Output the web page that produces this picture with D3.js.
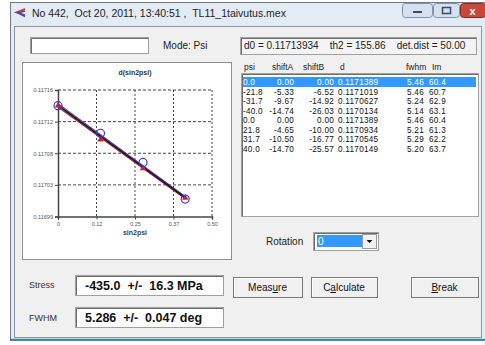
<!DOCTYPE html>
<html>
<head>
<meta charset="utf-8">
<script src="https://cdn.jsdelivr.net/npm/d3@7"></script>
<style>
  body { margin: 0; background: #fff; }
  svg { display: block; font-family: "Liberation Sans", Arial, sans-serif; }
</style>
</head>
<body>
<svg id="win" width="485" height="345"></svg>
<script>
// Datos de la tabla (psi, shiftA, shiftB, d, fwhm, Im)
const psi    = ['0.0', '-21.8', '-31.7', '-40.0', '0.0', '21.8', '31.7', '40.0'];
const shiftA = ['0.00', '-5.33', '-9.67', '-14.74', '0.00', '-4.65', '-10.50', '-14.70'];
const shiftB = ['0.00', '-6.52', '-14.92', '-26.03', '0.00', '-10.00', '-16.77', '-25.57'];
const dVals  = ['0.1171389', '0.1171019', '0.1170627', '0.1170134', '0.1171389', '0.1170934', '0.1170545', '0.1170149'];
const fwhm   = ['5.46', '5.46', '5.24', '5.14', '5.46', '5.21', '5.29', '5.20'];
const im     = ['60.4', '60.7', '62.9', '63.1', '60.4', '61.3', '62.2', '63.7'];

// Puntos del gráfico d(sin2psi)
const sin2psi = [0, 0.138, 0.276, 0.413];
const dNeg = [0.1171389, 0.1171019, 0.1170627, 0.1170134];  // psi negativos (círculos azules)
const dPos = [0.1171389, 0.1170934, 0.1170545, 0.1170149];  // psi positivos (triángulos rojos)

// Ticks de los ejes
const xTicks = [0, 0.125, 0.25, 0.375, 0.5];
const xTickLabels = ['0', '0.12', '0.25', '0.37', '0.50'];
const yTicks = [0.11699, 0.1170325, 0.117075, 0.1171175, 0.11716];
const yTickLabels = ['0.11699', '0.11703', '0.11708', '0.11712', '0.11716'];

const svg = d3.select('#win');

// Marco de la ventana
svg.append('rect').attr('x', 10.5).attr('y', 2.5).attr('width', 475).attr('height', 338)
    .attr('fill', '#e3ebf5').attr('stroke', '#6f7a86');
svg.append('rect').attr('x', 14.5).attr('y', 26.5).attr('width', 467).attr('height', 311)
    .attr('fill', '#f0f0f0').attr('stroke', '#8a96a3');
svg.append('line').attr('x1', 11).attr('x2', 485).attr('y1', 339.5).attr('y2', 339.5)
    .attr('stroke', '#2f8f9a').attr('stroke-width', 1.5);

// Icono y título
const icon = svg.append('g').attr('fill', 'none').attr('stroke-width', 1.4);
icon.append('path').attr('d', 'M25,9 L16,12.5 L25,15').attr('stroke', '#d22');
icon.append('path').attr('d', 'M25,11 L18,13 L25,16.5').attr('stroke', '#25b');
svg.append('text').attr('x', 32).attr('y', 17).attr('font-size', 10.5).attr('fill', '#1e1e1e')
    .attr('xml:space', 'preserve')
    .text('No 442,  Oct 20, 2011, 13:40:51 ,  TL11_1taivutus.mex');

// Botones de la barra de título
function capButton(x, w, fill, stroke) {
    svg.append('rect').attr('x', x + 0.5).attr('y', 3.5).attr('width', w).attr('height', 14)
        .attr('rx', 3).attr('fill', fill).attr('stroke', stroke);
}
capButton(402, 30, '#d4e1f0', '#7d93ae');
capButton(433, 26, '#d4e1f0', '#7d93ae');
capButton(460, 25, '#c9483c', '#8a2a22');
svg.append('rect').attr('x', 413).attr('y', 11).attr('width', 9).attr('height', 2).attr('fill', '#3b4b63');
svg.append('rect').attr('x', 442.5).attr('y', 7.5).attr('width', 8).attr('height', 6)
    .attr('fill', 'none').attr('stroke', '#3b4b63').attr('stroke-width', 1.5);
svg.append('text').attr('x', 472.5).attr('y', 14.5).attr('text-anchor', 'middle')
    .attr('font-size', 11).attr('font-weight', 'bold').attr('fill', '#fff').text('x');

// Caja de texto vacía y Mode
function sunkenBox(x, y, w, h, fill) {
    svg.append('rect').attr('x', x + 0.5).attr('y', y + 0.5).attr('width', w).attr('height', h)
        .attr('fill', fill || '#fff').attr('stroke', '#a0a0a0');
    svg.append('path').attr('d', `M${x + 1.5},${y + h} V${y + 1.5} H${x + w}`)
        .attr('fill', 'none').attr('stroke', '#6d6d6d');
}
sunkenBox(30, 37, 118, 16);
svg.append('text').attr('x', 163).attr('y', 49).attr('font-size', 10).attr('fill', '#222').text('Mode: Psi');
sunkenBox(240, 37, 236, 17, '#f4f4f4');
svg.append('text').attr('x', 244).attr('y', 49).attr('font-size', 10).attr('fill', '#222')
    .attr('xml:space', 'preserve')
    .text('d0 = 0.11713934    th2 = 155.86    det.dist = 50.00');

// Panel del gráfico
svg.append('rect').attr('x', 22.5).attr('y', 62.5).attr('width', 209).attr('height', 197)
    .attr('fill', '#fff').attr('stroke', '#8f8f8f');

const x = d3.scaleLinear().domain([0, 0.5]).range([58, 212]);
const y = d3.scaleLinear().domain([0.11699, 0.11716]).range([216.5, 90]);

const chart = svg.append('g');

chart.append('text').attr('x', 135).attr('y', 75).attr('text-anchor', 'middle')
    .attr('font-size', 7).attr('font-weight', 'bold').attr('fill', '#333').text('d(sin2psi)');
chart.append('text').attr('x', 135).attr('y', 235).attr('text-anchor', 'middle')
    .attr('font-size', 7).attr('font-weight', 'bold').attr('fill', '#444').text('sin2psi');

// Rejilla punteada
chart.append('g').selectAll('line').data(xTicks.slice(1)).join('line')
    .attr('x1', d => x(d)).attr('x2', d => x(d)).attr('y1', y(0.11716)).attr('y2', y(0.11699))
    .attr('stroke', '#444').attr('stroke-dasharray', '2,2');
chart.append('g').selectAll('line').data(yTicks.slice(1)).join('line')
    .attr('x1', x(0)).attr('x2', x(0.5)).attr('y1', d => y(d)).attr('y2', d => y(d))
    .attr('stroke', '#444').attr('stroke-dasharray', '3,2');

// Ejes
const xAxis = chart.append('g').attr('transform', `translate(0,${y(0.11699)})`)
    .call(d3.axisBottom(x).tickValues(xTicks).tickSize(3).tickPadding(3)
        .tickFormat((d, i) => xTickLabels[i]));
const yAxis = chart.append('g').attr('transform', `translate(${x(0)},0)`)
    .call(d3.axisLeft(y).tickValues(yTicks).tickSize(3).tickPadding(2)
        .tickFormat((d, i) => yTickLabels[i]));
[xAxis, yAxis].forEach(a => {
    a.select('.domain').attr('stroke', '#444').attr('stroke-width', 1.5);
    a.selectAll('.tick line').attr('stroke', '#444');
    a.selectAll('.tick text').attr('font-size', 5.5).attr('fill', '#555')
        .attr('font-family', '"Liberation Sans", Arial, sans-serif');
});

// Ajuste lineal
function fit(xs, ys) {
    const mx = d3.mean(xs), my = d3.mean(ys);
    const b = d3.sum(xs, (v, i) => (v - mx) * (ys[i] - my)) / d3.sum(xs, v => (v - mx) * (v - mx));
    return { a: my - b * mx, b: b };
}
const line = d3.line().x(d => x(d[0])).y(d => y(d[1]));
function drawFit(xs, ys, color, w) {
    const f = fit(xs, ys);
    const x0 = 0, x1 = d3.max(xs);
    chart.append('path').datum([[x0, f.a + f.b * x0], [x1, f.a + f.b * x1]])
        .attr('d', line).attr('fill', 'none').attr('stroke', color).attr('stroke-width', w);
}
drawFit(sin2psi, dNeg, '#4048c0', 1.2);
drawFit(sin2psi, dPos, '#b02030', 1.2);
drawFit(sin2psi.concat(sin2psi), dNeg.concat(dPos), '#1a0f22', 1.6);

// Marcadores
chart.append('g').selectAll('path').data(sin2psi).join('path')
    .attr('d', d3.symbol(d3.symbolTriangle, 18))
    .attr('transform', (d, i) => `translate(${x(d)},${y(dPos[i])})`)
    .attr('fill', '#d0212b');
chart.append('g').selectAll('circle').data(sin2psi).join('circle')
    .attr('cx', d => x(d)).attr('cy', (d, i) => y(dNeg[i])).attr('r', 4)
    .attr('fill', 'none').attr('stroke', '#3a3ad8').attr('stroke-width', 1.2);

// Lista de datos
const headers = [['psi', 244], ['shiftA', 272], ['shiftB', 303], ['d', 340], ['fwhm', 406], ['Im', 432]];
headers.forEach(h => svg.append('text').attr('x', h[1]).attr('y', 70)
    .attr('font-size', 8.5).attr('fill', '#222').text(h[0]));

sunkenBox(241, 73, 237, 143);
svg.append('rect').attr('x', 243).attr('y', 77).attr('width', 233).attr('height', 10).attr('fill', '#3399ff');

// posición y alineación de cada columna
const colX = [243, 294, 334, 338, 407, 429];
const colAnchor = ['start', 'end', 'end', 'start', 'start', 'start'];
const rows = psi.map((p, i) => [p, shiftA[i], shiftB[i], dVals[i], fwhm[i], im[i]]);
const rowG = svg.append('g').selectAll('g').data(rows).join('g')
    .attr('transform', (d, i) => `translate(0,${85 + i * 9.5})`);
rowG.selectAll('text').data((d, i) => d.map(v => ({ v: v, sel: i === 0 }))).join('text')
    .attr('x', (d, j) => colX[j]).attr('text-anchor', (d, j) => colAnchor[j])
    .attr('font-size', 8.2).attr('letter-spacing', 0.25)
    .attr('fill', d => d.sel ? '#fff' : '#111').text(d => d.v);

// Rotación
svg.append('text').attr('x', 266).attr('y', 245).attr('font-size', 10).attr('fill', '#222').text('Rotation');
sunkenBox(313, 232, 65, 18);
svg.append('rect').attr('x', 317).attr('y', 235).attr('width', 45).attr('height', 12).attr('fill', '#3399ff');
svg.append('text').attr('x', 318).attr('y', 245).attr('font-size', 10).attr('fill', '#fff').text('0');
svg.append('rect').attr('x', 362.5).attr('y', 234.5).attr('width', 14).attr('height', 14)
    .attr('fill', '#f2f2f2').attr('stroke', '#9a9a9a');
svg.append('path').attr('d', 'M366.5,240 h6 l-3,3 z').attr('fill', '#111');

// Botones
function button(x0, x1, label, under) {
    svg.append('rect').attr('x', x0 + 0.5).attr('y', 277.5).attr('width', x1 - x0).attr('height', 20)
        .attr('fill', '#f0f0f0').attr('stroke', '#7a7a7a');
    svg.append('path').attr('d', `M${x0 + 1.5},${296} V${278.5} H${x1 - 1}`)
        .attr('fill', 'none').attr('stroke', '#fff');
    const t = svg.append('text').attr('x', (x0 + x1) / 2).attr('y', 291).attr('text-anchor', 'middle')
        .attr('font-size', 10).attr('fill', '#111');
    label.split('').forEach((c, i) => t.append('tspan')
        .attr('text-decoration', i === under ? 'underline' : null).text(c));
}
button(233, 302, 'Measure', 4);
button(311, 377, 'Calculate', 1);
button(411, 478, 'Break', 0);

// Resultados
svg.append('text').attr('x', 29).attr('y', 288).attr('font-size', 9).attr('fill', '#333').text('Stress');
sunkenBox(75, 275, 148, 20);
svg.append('text').attr('x', 85).attr('y', 290).attr('font-size', 12.5).attr('font-weight', 'bold')
    .attr('fill', '#111').attr('xml:space', 'preserve').text('-435.0  +/-  16.3 MPa');

svg.append('text').attr('x', 29).attr('y', 321).attr('font-size', 9).attr('fill', '#333').text('FWHM');
sunkenBox(75, 307, 148, 20);
svg.append('text').attr('x', 85).attr('y', 322).attr('font-size', 12.5).attr('font-weight', 'bold')
    .attr('fill', '#111').attr('xml:space', 'preserve').text('5.286  +/-  0.047 deg');
</script>
</body>
</html>
